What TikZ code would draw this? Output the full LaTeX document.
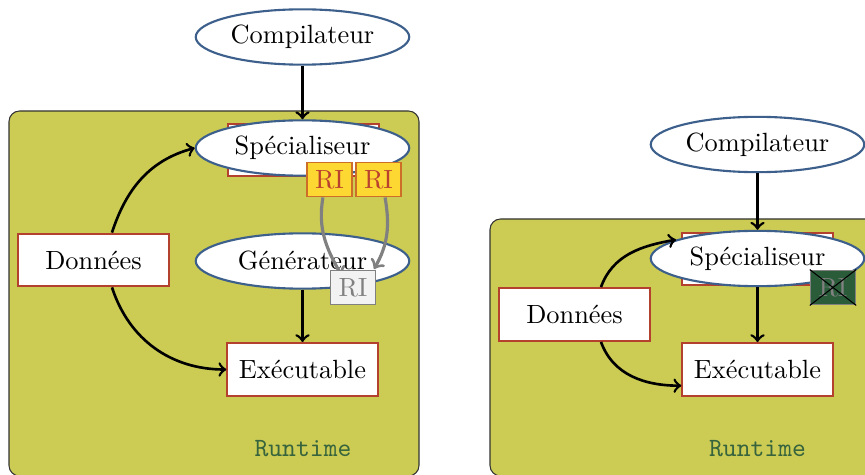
\documentclass[tikz,border=0pt]{standalone}
\usetikzlibrary{shapes.geometric}
\definecolor{fondrt}{RGB}{204,204,85}
\definecolor{bleuell}{RGB}{60,95,140}
\definecolor{rougebord}{RGB}{180,65,45}
\definecolor{jauneri}{RGB}{253,215,50}
\definecolor{bordri}{RGB}{205,110,40}
\definecolor{texteri}{RGB}{185,65,45}
\definecolor{vertrt}{RGB}{55,100,60}
\definecolor{vertri}{RGB}{42,92,58}
\definecolor{grisri}{RGB}{242,242,242}
\tikzset{
  prog/.style={ellipse,draw=bleuell,thick,fill=white,minimum width=81pt,minimum height=21pt,inner sep=0pt},
  boite/.style={rectangle,draw=rougebord,thick,fill=white,minimum width=57pt,minimum height=20pt,inner sep=0pt},
  ri/.style={rectangle,draw=bordri,semithick,fill=jauneri,text=texteri,minimum width=17pt,minimum height=13pt,inner sep=0pt},
  rigris/.style={rectangle,draw=gray,semithick,fill=grisri,text=gray,minimum width=17pt,minimum height=13pt,inner sep=0pt},
  rimort/.style={rectangle,draw=gray,semithick,fill=vertri,text=gray,minimum width=17pt,minimum height=13pt,inner sep=0pt},
  fleche/.style={->,line width=1pt},
  flechegris/.style={->,line width=1.2pt,gray},
  runtime/.style={font=\ttfamily,text=vertrt},
  zone/.style={draw=black!80,fill=fondrt,rounded corners=4pt}
}
\begin{document}
\begin{tikzpicture}[x=0.01333cm,y=-0.01333cm]
\useasboundingbox (0,0) rectangle (865,475);
% a gauche
\draw[zone] (9,111) rectangle (419,476);
\node[prog] (comp1) at (302.5,37) {Compilateur};
\node[boite] (specbox1) at (303.5,150) {};
\node[prog] (spec1) at (302.5,148) {Spécialiseur};
\node[prog] (gen1) at (302.5,261) {Générateur};
\node[boite] (exe1) at (302.5,369.5) {Exécutable};
\node[boite] (don1) at (93.5,260) {Données};
\node[ri] (ria) at (329.5,179.5) {RI};
\node[ri] (rib) at (378.5,179.5) {RI};
\coordinate (cible1) at (342,276);
\coordinate (cible2) at (374,269);
\draw[flechegris] (ria.-110) to[out=-100,in=120] (cible1);
\draw[flechegris] (rib.-70) to[out=-80,in=60] (cible2);
\node[rigris] (rig) at (353,287.5) {RI};
\draw[fleche] (comp1) -- (spec1);
\draw[fleche] (gen1) -- (exe1);
\draw[fleche] (don1.56) to[out=72,in=195] (spec1.west);
\draw[fleche] (don1.-56) to[out=-72,in=180] (exe1.west);
\node[runtime] (rt1) at (303,449) {Runtime};
% a droite
\draw[zone] (490,219) rectangle (880,476);
\node[prog] (comp2) at (757.5,144.5) {Compilateur};
\node[boite] (specbox2) at (757.5,259) {};
\node[prog] (spec2) at (757.5,258.5) {Spécialiseur};
\node[boite] (exe2) at (757.5,369.5) {Exécutable};
\node[boite] (don2) at (574.5,314.5) {Données};
\node[rimort] (rim) at (833,287.5) {RI};
\draw (rim.north west) -- (rim.south east);
\draw (rim.north east) -- (rim.south west);
\draw[fleche] (comp2) -- (spec2);
\draw[fleche] (spec2) -- (exe2);
\draw[fleche] (don2.46) to[out=70,in=190] (spec2.167);
\draw[fleche] (don2.-46) to[out=-70,in=180] (exe2.192);
\node[runtime] (rt2) at (757.5,449) {Runtime};
\end{tikzpicture}
\end{document}
